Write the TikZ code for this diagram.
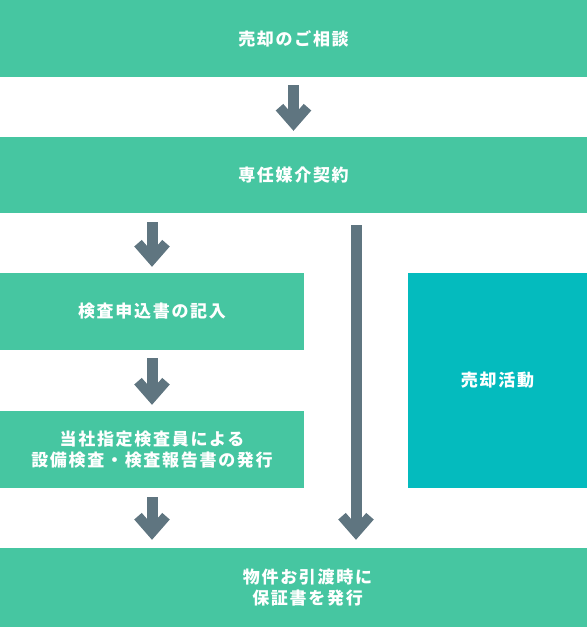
\documentclass[tikz,border=0pt]{standalone}
\usepackage{fontspec}
\newfontfamily\jpfont{Noto Sans CJK JP}[LetterSpace=10]
\usepackage{xcolor}
\usetikzlibrary{positioning,calc,arrows.meta}
\definecolor{boxgreen}{HTML}{46C6A1}
\definecolor{boxteal}{HTML}{04BBBE}
\definecolor{arrowgray}{HTML}{5F7580}

\begin{document}
\begin{tikzpicture}[x=1pt,y=-1pt,
  stagebox/.style={fill=boxgreen,inner sep=0pt,text=white,align=center,
    font=\jpfont\bfseries\fontsize{17pt}{21pt}\selectfont,minimum height=77pt},
  stagetext/.style={inner sep=0pt,text=white,align=center,
    font=\jpfont\bfseries\fontsize{17pt}{21pt}\selectfont},
  flow/.style={arrowgray,line width=11pt,
    -{Straight Barb[sharp,length=16pt,width=28pt,line width=10pt]}}]
\useasboundingbox (0,0) rectangle (587,627);

\coordinate (top) at (293.5,38.5);
\node[stagebox,minimum width=587pt] (consult) at (top) {売却のご相談};

\coordinate (second) at (293.5,175);
\node[stagebox,minimum width=587pt,minimum height=76pt] (contract) at (second) {専任媒介契約};

\coordinate (left1) at (152,311.5);
\node[stagebox,minimum width=304pt] (apply) at (left1) {検査申込書の記入};

\coordinate (left2) at (152,449.5);
\node[stagebox,minimum width=304pt] (inspect) at (left2) {当社指定検査員による\\設備検査・検査報告書の発行};

\coordinate (right) at (497.5,380.5);
\node[stagebox,fill=boxteal,minimum width=179pt,minimum height=215pt] (sales) at (right) {売却活動};

\coordinate (last) at (293.5,587.5);
\node[stagebox,minimum width=587pt,minimum height=79pt] (handover) at (last) {};
\node[stagetext] (handovertext) at ([xshift=14pt]handover.center) {物件お引渡時に\\保証書を発行};

\coordinate (gap) at ($(apply.east)!0.5!(sales.west)$);

\draw[flow] ([yshift=-8pt]consult.south) -- ([yshift=6pt]contract.north);
\draw[flow] ([yshift=-9pt]apply.north |- contract.south) -- ([yshift=6pt]apply.north);
\draw[flow] ([yshift=-8pt]apply.south) -- ([yshift=6pt]inspect.north);
\draw[flow] ([yshift=-9pt]inspect.south) -- ([yshift=8pt]inspect.south |- handover.north);
\draw[flow] ([yshift=-12pt]gap |- contract.south) -- ([yshift=8pt]gap |- handover.north);
\end{tikzpicture}
\end{document}
